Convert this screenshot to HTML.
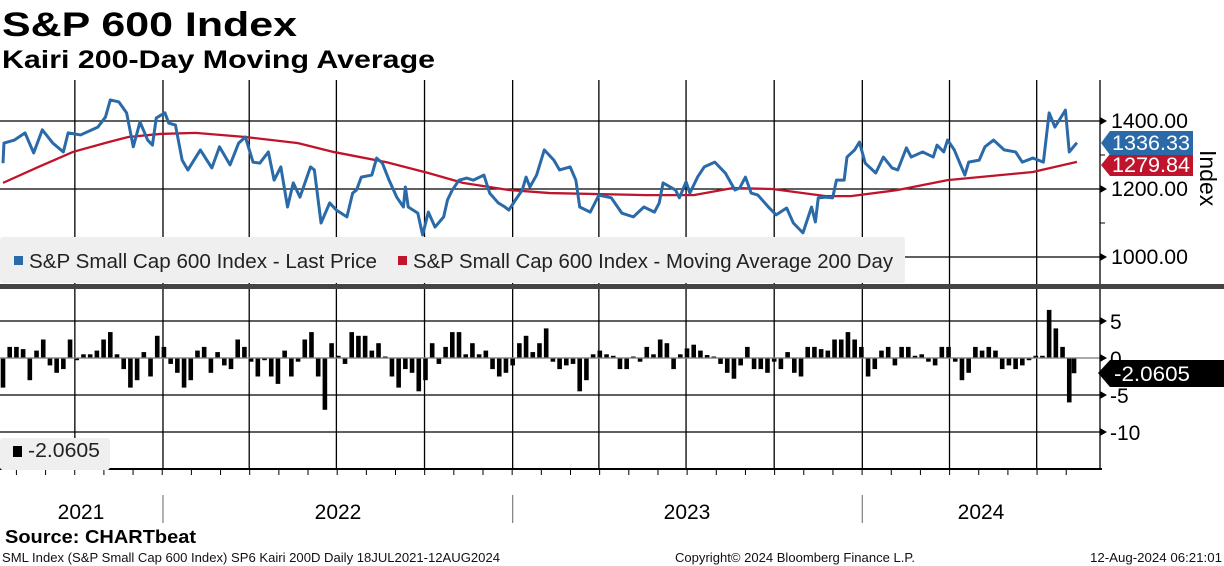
<!DOCTYPE html>
<html><head><meta charset="utf-8"><style>
body{margin:0;background:#fff;}
svg{display:block;font-family:"Liberation Sans",sans-serif;}
</style></head><body>
<svg id="chart" width="1224" height="566" viewBox="0 0 1224 566" xmlns="http://www.w3.org/2000/svg">
<rect width="1224" height="566" fill="#fff"/>
<text x="2" y="36" font-size="34" font-weight="bold" textLength="295" lengthAdjust="spacingAndGlyphs">S&amp;P 600 Index</text>
<text x="2" y="68" font-size="25" font-weight="bold" textLength="433" lengthAdjust="spacingAndGlyphs">Kairi 200-Day Moving Average</text>
<g id="grid"></g>
<g id="bars"></g>
<g id="lines"></g>
<g id="axes"></g>
<rect x="0" y="237" width="905" height="46" rx="3" fill="#efefef"/>
<rect x="14" y="256" width="9" height="9" fill="#2a6aa8"/>
<text x="29" y="268" font-size="20" fill="#222" textLength="348" lengthAdjust="spacingAndGlyphs">S&amp;P Small Cap 600 Index - Last Price</text>
<rect x="398" y="256" width="9" height="9" fill="#c0142c"/>
<text x="413" y="268" font-size="20" fill="#222" textLength="480" lengthAdjust="spacingAndGlyphs">S&amp;P Small Cap 600 Index - Moving Average 200 Day</text>
<rect x="0" y="284" width="1224" height="5" fill="#444"/>
<rect x="0" y="438" width="110" height="32" rx="3" fill="#efefef"/>
<rect x="13" y="446" width="9" height="11" fill="#000"/>
<text x="28" y="457" font-size="20" fill="#222" textLength="72" lengthAdjust="spacingAndGlyphs">-2.0605</text>
<text x="81" y="519" font-size="21" text-anchor="middle">2021</text>
<text x="338" y="519" font-size="21" text-anchor="middle">2022</text>
<text x="687" y="519" font-size="21" text-anchor="middle">2023</text>
<text x="981" y="519" font-size="21" text-anchor="middle">2024</text>
<text x="5" y="543" font-size="18" font-weight="bold" textLength="191" lengthAdjust="spacingAndGlyphs">Source: CHARTbeat</text>
<text x="2" y="562" font-size="12.5" fill="#111" textLength="498" lengthAdjust="spacingAndGlyphs">SML Index (S&amp;P Small Cap 600 Index) SP6 Kairi 200D  Daily 18JUL2021-12AUG2024</text>
<text x="675" y="562" font-size="12.5" fill="#111" textLength="240" lengthAdjust="spacingAndGlyphs">Copyright© 2024 Bloomberg Finance L.P.</text>
<text x="1090" y="562" font-size="12.5" fill="#111" textLength="132" lengthAdjust="spacingAndGlyphs">12-Aug-2024 06:21:01</text>
</svg>
<script>
const priceDays=[0,1,12,23,32,41,52,63,68,81,99,107,112,121,129,136,143,151,156,160,169,173,180,187,193,206,218,226,237,246,253,261,268,277,283,290,297,303,310,321,325,332,341,348,359,365,369,374,385,390,396,403,411,418,420,423,433,438,444,451,460,464,469,476,484,491,502,508,517,524,528,535,542,546,550,557,565,575,581,592,598,602,613,622,635,646,658,669,680,685,689,702,706,713,717,725,732,743,754,764,769,775,781,788,799,807,818,825,835,844,848,851,859,866,870,878,881,889,894,900,911,919,928,934,943,948,960,971,975,982,986,993,1004,1008,1019,1025,1034,1045,1057,1064,1075,1086,1092,1098,1109,1113,1121];
const priceValues=[1276,1335,1344,1365,1306,1374,1335,1309,1365,1359,1382,1412,1462,1456,1424,1324,1397,1344,1329,1409,1424,1394,1388,1285,1256,1315,1262,1324,1271,1335,1353,1279,1276,1309,1226,1265,1147,1218,1176,1265,1256,1100,1159,1138,1118,1188,1197,1235,1241,1291,1276,1226,1176,1147,1206,1147,1129,1065,1132,1088,1118,1168,1197,1226,1232,1226,1241,1188,1159,1147,1138,1168,1197,1235,1206,1241,1315,1285,1256,1265,1226,1147,1132,1182,1174,1129,1118,1147,1132,1159,1218,1197,1174,1221,1188,1235,1265,1279,1247,1197,1203,1235,1188,1182,1147,1124,1144,1100,1071,1147,1103,1174,1176,1174,1226,1226,1294,1315,1338,1276,1247,1294,1262,1256,1321,1294,1309,1294,1329,1309,1344,1315,1241,1279,1285,1324,1344,1315,1309,1279,1291,1279,1424,1382,1432,1309,1336.33];
const maDays=[0,37,73,110,131,164,201,253,308,345,400,444,480,528,571,672,721,762,803,859,885,934,986,1075,1121];
const maValues=[1218,1265,1309,1338,1353,1362,1365,1353,1335,1309,1279,1247,1218,1197,1188,1182,1182,1203,1200,1179,1179,1197,1226,1250,1279.84];
const kairiWeekly=[-4,1.5,1.5,1.2,-3,1,2.5,-1,-2,-1.5,2.5,-0.3,0.5,0.5,1,2.5,3.5,0.5,-1.5,-4,-3,0.8,-2.5,3,1.5,-0.8,-2,-4,-3,1,1.5,-2,0.8,-1,-1.5,2.5,1.5,-0.5,-2.5,-0.3,-2.5,-3.5,1,-2.5,-0.5,2.5,3.5,-2.5,-7,2,0.3,-0.8,3.5,3,3,1,2,0.2,-2.5,-4,-1.5,-2,-4.5,-3,2,-0.8,1.5,3.5,3.5,0.5,2,0.5,1,-1.5,-2.5,-2,-1,2,3,0.8,2,4,-0.5,-1.5,-1,-0.8,-4.5,-3,0.5,1,0.5,0.3,-1.5,-1.5,0.2,-0.5,1.5,0.5,2.5,2,-1.5,0.5,1.3,1.8,1,0.4,0.2,-0.8,-2,-2.8,-1,1.5,-1.5,-1.5,-2,-0.5,-1.5,0.8,-2,-2.5,1.5,1.5,1.2,1,2.5,2.5,3.5,2.5,1.5,-2.5,-1.5,1,1.5,-1,1.5,1.5,0.3,0.5,-0.5,-1,1.5,1.5,-0.5,-3,-2,1.5,1,1.5,1,-1.5,-1,-1.5,-1,-0.3,0.3,0.3,6.5,4,1.5,-6,-2.0605];
const priceTicks=[1000,1200,1400];
const kairiTicks=[-10,-5,0,5];
const quarterDays=[75,167,257,348,440,532,622,713,805,897,988,1079];
const yearDays=[167,532,897];

const NS='http://www.w3.org/2000/svg';
function xD(d){return 3+d*0.958;}
function yP(v){return 121+(1400-v)*0.34;}
function yK(v){return 358-v*7.4;}
function mk(tag,attrs,parent){const e=document.createElementNS(NS,tag);for(const k in attrs)e.setAttribute(k,attrs[k]);parent.appendChild(e);return e;}
const grid=document.getElementById('grid'),bars=document.getElementById('bars'),lines=document.getElementById('lines'),axes=document.getElementById('axes');

quarterDays.forEach(d=>{
  let l=mk('line',{x1:xD(d),x2:xD(d),y1:80,y2:284,stroke:'#000','stroke-width':1.3},grid);
  
  
  let l2=mk('line',{x1:xD(d),x2:xD(d),y1:289,y2:470,stroke:'#000','stroke-width':1.3},grid);
  
  
});
priceTicks.forEach(v=>{
  let l=mk('line',{x1:0,x2:1100,y1:yP(v),y2:yP(v),stroke:'#000','stroke-width':1.3},grid);
  
  
  let p=mk('path',{d:`M1100 ${yP(v)-4} L1107 ${yP(v)} L1100 ${yP(v)+4} Z`,fill:'#000'},axes);
  
  
  let t=mk('text',{x:1111,y:yP(v)+7,'font-size':21,textLength:77,lengthAdjust:'spacingAndGlyphs'},axes);
  t.textContent=v.toFixed(2);
  
  
});
[1100,1300].forEach(v=>{let m=mk('line',{x1:1100,x2:1105,y1:yP(v),y2:yP(v),stroke:'#000'},axes);
  
  });
kairiTicks.forEach(v=>{
  let l=mk('line',{x1:0,x2:1100,y1:yK(v),y2:yK(v),stroke:v===0?'#888':'#000','stroke-width':1.3},grid);
  
  
  let p=mk('path',{d:`M1100 ${yK(v)-4} L1107 ${yK(v)} L1100 ${yK(v)+4} Z`,fill:'#000'},axes);
  
  
  let t=mk('text',{x:1110,y:yK(v)+8,'font-size':21},axes);
  t.textContent=String(v);
  
  
});
let ax=mk('line',{x1:1100,x2:1100,y1:80,y2:470,stroke:'#000','stroke-width':1.3},axes);


let bx=mk('line',{x1:0,x2:1102,y1:469,y2:469,stroke:'#000','stroke-width':2},axes);


for(let m=0;m<38;m++){const d=14+m*30.44;if(d>1121)break;let t=mk('line',{x1:xD(d),x2:xD(d),y1:470,y2:475,stroke:'#000'},axes);
  
  }
yearDays.forEach(d=>{let s=mk('line',{x1:xD(d),x2:xD(d),y1:495,y2:523,stroke:'#888','stroke-width':1.3},axes);
  
  });

kairiWeekly.forEach((v,i)=>{
  const d=Math.min(i*7,1118);const y0=yK(0),y1=yK(v);
  let r=mk('rect',{x:xD(d)-2.3,y:Math.min(y0,y1),width:4.6,height:Math.abs(y1-y0),fill:'#000'},bars);
  
  
});
let zl=mk('line',{x1:0,x2:1100,y1:yK(0),y2:yK(0),stroke:'#888','stroke-width':1.3},bars);



let ma=mk('polyline',{points:maDays.map((d,i)=>xD(d)+','+yP(maValues[i])).join(' '),fill:'none',stroke:'#c0142c','stroke-width':2.3},lines);


let pr=mk('polyline',{points:priceDays.map((d,i)=>xD(d)+','+yP(priceValues[i])).join(' '),fill:'none',stroke:'#2a6aa8','stroke-width':3,'stroke-linejoin':'round'},lines);



function callout(y,txt,fill,name,h){
  let p=mk('path',{d:`M1101 ${y} L1110 ${y-h/2} L1193 ${y-h/2} L1193 ${y+h/2} L1110 ${y+h/2} Z`,fill:fill},axes);
  
  
  let t=mk('text',{x:1112,y:y+7,'font-size':21,fill:'#fff',textLength:78,lengthAdjust:'spacingAndGlyphs'},axes);
  t.textContent=txt;
  
  
}
callout(165,'1279.84','#c0142c','ma-last-value',22);
callout(143,'1336.33','#2a6aa8','price-last-value',24);
let kb=mk('path',{d:'M1098 373 L1110 360 L1224 360 L1224 387 L1110 387 Z',fill:'#000'},axes);


let kt=mk('text',{x:1114,y:381,'font-size':21,fill:'#fff',textLength:76,lengthAdjust:'spacingAndGlyphs'},axes);
kt.textContent='-2.0605';


let it=mk('text',{x:0,y:0,'font-size':23,transform:'translate(1200,150) rotate(90)'},axes);
it.textContent='Index';


</script>
</body></html>
